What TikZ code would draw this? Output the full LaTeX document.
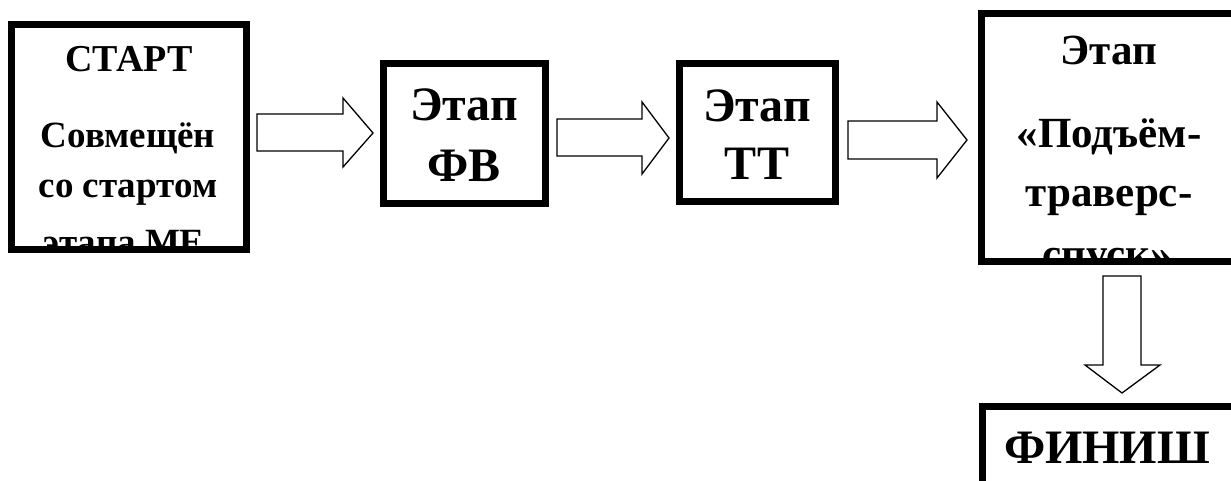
\documentclass[tikz,border=0pt]{standalone}
\usepackage{fontspec}
\setmainfont{Liberation Serif}
\begin{document}
\begin{tikzpicture}[x=1pt,y=-1pt,
  boxline/.style={draw=black,line width=7pt,line join=miter},
  blockarrow/.style={draw=black,line width=1.3pt,fill=white,line join=miter},
  lbl/.style={inner sep=0pt,anchor=base,font=\bfseries}]
\useasboundingbox (0,0) rectangle (1231,481);
\clip (0,0) rectangle (1231,481);
% ---- box 1: START
\begin{scope}
\clip (15,29) rectangle (243,245.5);
\node[lbl,font=\bfseries\fontsize{38}{40}\selectfont] (t1a) at (129,72) {СТАРТ};
\node[lbl,font=\bfseries\fontsize{37}{40}\selectfont] (t1b) at (128,148) {Совмещён};
\node[lbl,font=\bfseries\fontsize{37}{40}\selectfont] (t1c) at (128,197) {со стартом};
\node[lbl,font=\bfseries\fontsize{37}{40}\selectfont] (t1d) at (124,254) {этапа МЕ};
\end{scope}
\node[boxline,minimum width=235pt,minimum height=224pt,inner sep=0pt] (start) at (129,137) {};
% ---- box 2: FV
\node[boxline,minimum width=162pt,minimum height=139.5pt,inner sep=0pt] (fv) at (464.5,133.75) {};
\node[lbl,font=\bfseries\fontsize{48}{50}\selectfont] (t2a) at (464,121) {Этап};
\node[lbl,font=\bfseries\fontsize{48}{50}\selectfont] (t2b) at (464,182) {ФВ};
% ---- box 3: TT
\node[boxline,minimum width=155.5pt,minimum height=138pt,inner sep=0pt] (tt) at (757.25,132.5) {};
\node[lbl,font=\bfseries\fontsize{48}{50}\selectfont] (t3a) at (757,122) {Этап};
\node[lbl,font=\bfseries\fontsize{48}{50}\selectfont] (t3b) at (757,180) {ТТ};
% ---- box 4: ascent-traverse-descent
\begin{scope}
\clip (985,17) rectangle (1240,258);
\node[lbl,font=\bfseries\fontsize{43}{44}\selectfont] (t4a) at (1109,65) {Этап};
\node[lbl,font=\bfseries\fontsize{43}{44}\selectfont] (t4b) at (1109,148) {«Подъём-};
\node[lbl,font=\bfseries\fontsize{43}{44}\selectfont] (t4c) at (1109,207) {траверс-};
\node[lbl,font=\bfseries\fontsize{43}{44}\selectfont] (t4d) at (1107,268) {спуск»};
\end{scope}
\node[boxline,minimum width=280pt,minimum height=248pt,inner sep=0pt] (ptd) at (1121.5,137.5) {};
% ---- finish box
\node[boxline,minimum width=280pt,minimum height=120pt,inner sep=0pt] (finish) at (1122,466.5) {};
\node[lbl,font=\bfseries\fontsize{48}{50}\selectfont] (t5) at (1107,463) {ФИНИШ};
% ---- block arrows
\draw[blockarrow] (257,114) -- (343,114) -- (343,98) -- (373,133) -- (343,167) -- (343,151) -- (257,151) -- cycle;
\draw[blockarrow] (557,119) -- (642,119) -- (642,102) -- (669,138) -- (642,174) -- (642,156) -- (557,156) -- cycle;
\draw[blockarrow] (848,121) -- (937,121) -- (937,102) -- (967,140) -- (937,178) -- (937,159) -- (848,159) -- cycle;
\draw[blockarrow] (1103,276) -- (1141,276) -- (1141,365) -- (1160,365) -- (1122,393) -- (1085,365) -- (1103,365) -- cycle;
\end{tikzpicture}
\end{document}
